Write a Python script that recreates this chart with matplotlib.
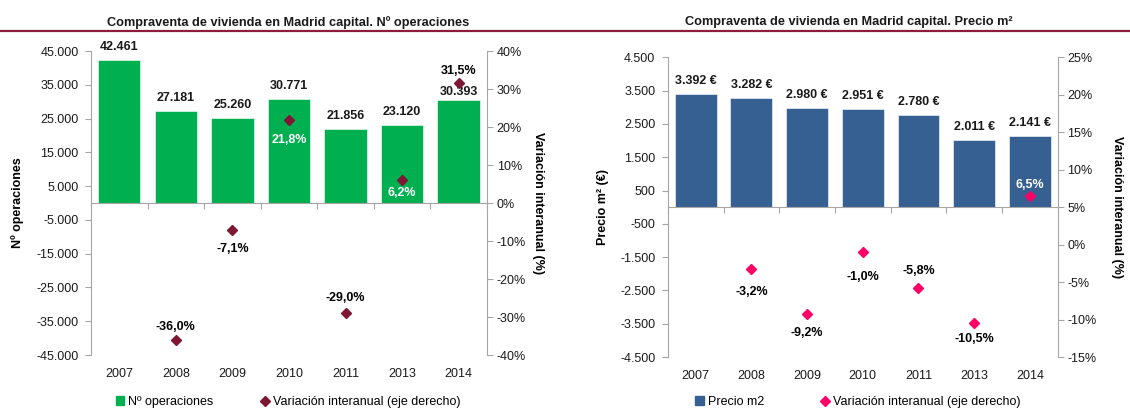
import numpy as np
import matplotlib
matplotlib.use("Agg")
import matplotlib.pyplot as plt
from matplotlib.ticker import FuncFormatter, FixedLocator
from matplotlib.patches import Patch
from matplotlib.lines import Line2D

plt.rcParams['font.family'] = ['Liberation Sans', 'DejaVu Sans']

# datos
years = ["2007", "2008", "2009", "2010", "2011", "2013", "2014"]
operaciones = [42461, 27181, 25260, 30771, 21856, 23120, 30393]
var_operaciones = [np.nan, -36.0, -7.1, 21.8, -29.0, 6.2, 31.5]
precio_m2 = [3392, 3282, 2980, 2951, 2780, 2011, 2141]
var_precio = [np.nan, -3.2, -9.2, -1.0, -5.8, -10.5, 6.5]

# estilo de etiquetas (desplazamiento vertical en puntos)
bar_off_ops = [5, 5, 5, 5, 5, 5, 1.5]
var_off_ops = [0, 9, -14, -14, 11, -10, 9]
lbl_col_ops = ["k", "k", "k", "white", "k", "white", "k"]
bar_off_pre = [5, 5, 5, 5, 5, 5, 5]
var_off_pre = [0, -17, -14, -18, 12, -11, 8]
lbl_col_pre = ["k", "k", "k", "k", "k", "k", "white"]

GREY = "#A6A6A6"
TXT = "#1a1a1a"


def miles(v, pos=None):
    return f"{v:,.0f}".replace(",", ".")


def pct(v, pos=None):
    return f"{v:.0f}%"


def panel(rect, values, var, ylim, y2lim, yticks, y2ticks, color, mcolor,
          bar_off, var_off, lbl_col, fmt_bar, ylabel, y2label, title, tx, lp1, lp2):
    ax = fig.add_axes(rect)
    x = np.arange(len(years))
    ax.bar(x, values, width=0.75, color=color, edgecolor="white", linewidth=0.4, zorder=2)
    ax.set_xlim(-0.5, len(years) - 0.5)
    ax.set_ylim(*ylim)
    ax.set_yticks(yticks)
    ax.yaxis.set_major_formatter(FuncFormatter(miles))
    for s in ["top", "right"]:
        ax.spines[s].set_visible(False)
    ax.spines["left"].set_color(GREY)
    ax.spines["bottom"].set_color(GREY)
    ax.spines["bottom"].set_position(("data", 0))
    ax.xaxis.set_major_locator(FixedLocator(np.arange(len(years) + 1) - 0.5))
    ax.tick_params(axis="x", length=4, color=GREY, labelbottom=False)
    ax.tick_params(axis="y", length=4, color=GREY, labelsize=9, labelcolor=TXT, pad=5)
    ax.set_ylabel(ylabel, fontsize=9, fontweight="bold", labelpad=lp1)

    sec = ax.secondary_xaxis("bottom")
    sec.set_xticks(x, years)
    sec.tick_params(length=0, pad=9, labelsize=9, labelcolor=TXT)
    sec.spines["bottom"].set_visible(False)

    for i, v in enumerate(values):
        ax.annotate(fmt_bar(v), (x[i], v), xytext=(0, bar_off[i]), textcoords="offset points",
                    ha="center", va="bottom", fontsize=9, fontweight="bold", color=TXT)

    ax2 = ax.twinx()
    ax2.plot(x, var, linestyle="none", marker="D", markersize=5, color=mcolor, zorder=3)
    ax2.set_ylim(*y2lim)
    ax2.set_yticks(y2ticks)
    ax2.yaxis.set_major_formatter(FuncFormatter(pct))
    for s in ["top", "left", "bottom"]:
        ax2.spines[s].set_visible(False)
    ax2.spines["right"].set_color(GREY)
    ax2.tick_params(axis="y", length=4, color=GREY, labelsize=9, labelcolor=TXT, pad=3)
    ax2.set_ylabel(y2label, fontsize=9, fontweight="bold", rotation=270, labelpad=lp2)

    for i, v in enumerate(var):
        if np.isnan(v):
            continue
        ax2.annotate(f"{v:.1f}%".replace(".", ","), (x[i], v), xytext=(0, var_off[i]),
                     textcoords="offset points", ha="center", va="center",
                     fontsize=9, fontweight="bold", color=lbl_col[i])

    fig.text(tx, 0.945, title, ha="center", va="center", fontsize=9.2, fontweight="bold", color=TXT)
    return ax, ax2


fig = plt.figure(figsize=(11.3, 4.09), dpi=100)

panel([0.0805, 0.132, 0.3504, 0.743], operaciones, var_operaciones,
      (-45000, 45000), (-40, 40), np.arange(-45000, 45001, 10000), np.arange(-40, 41, 10),
      "#00B050", "#7F1734", bar_off_ops, var_off_ops, lbl_col_ops, miles,
      "Nº operaciones", "Variación interanual (%)",
      "Compraventa de vivienda en Madrid capital. Nº operaciones", 0.255, 9, 13)

panel([0.591, 0.127, 0.345, 0.733], precio_m2, var_precio,
      (-4500, 4500), (-15, 25), np.arange(-4500, 4501, 1000), np.arange(-15, 26, 5),
      "#376092", "#FF0066", bar_off_pre, var_off_pre, lbl_col_pre, lambda v: miles(v) + " €",
      "Precio m² (€)", "Variación interanual (%)",
      "Compraventa de vivienda en Madrid capital. Precio m²", 0.751, 8, 19)

# linea bajo los titulos
fig.add_artist(Line2D([0, 1], [0.924, 0.924], color="#8E1B3D", linewidth=1.6,
                      transform=fig.transFigure))

# leyendas
h1 = [Patch(color="#00B050"), Line2D([], [], linestyle="none", marker="D", markersize=5, color="#7F1734")]
fig.legend(h1, ["Nº operaciones", "Variación interanual (eje derecho)"], loc="center",
           bbox_to_anchor=(0.255, 0.017), ncol=2, frameon=False, fontsize=9,
           handlelength=0.7, handleheight=0.7, handletextpad=0.3, columnspacing=3.8)
h2 = [Patch(color="#376092"), Line2D([], [], linestyle="none", marker="D", markersize=5, color="#FF0066")]
fig.legend(h2, ["Precio m2", "Variación interanual (eje derecho)"], loc="center",
           bbox_to_anchor=(0.759, 0.017), ncol=2, frameon=False, fontsize=9,
           handlelength=0.7, handleheight=0.7, handletextpad=0.3, columnspacing=4.5)

fig.savefig("out.png", dpi=100)
